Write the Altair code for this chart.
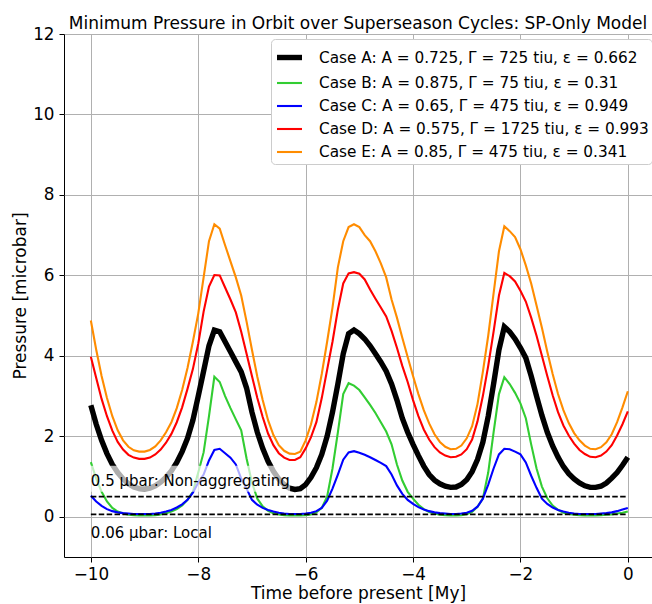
import altair as alt
import pandas as pd

# Time axis (My before present), sampled every 0.1 My
time_my = [round(-10 + 0.1 * i, 1) for i in range(101)]

case_labels = [
    "Case A: A = 0.725, Γ = 725 tiu, ε = 0.662",
    "Case B: A = 0.875, Γ = 75 tiu, ε = 0.31",
    "Case C: A = 0.65, Γ = 475 tiu, ε = 0.949",
    "Case D: A = 0.575, Γ = 1725 tiu, ε = 0.993",
    "Case E: A = 0.85, Γ = 475 tiu, ε = 0.341",
]
case_colors = ["#000000", "#32cd32", "#0000ff", "#ff0000", "#ff8c00"]
case_widths = [5.4, 2.1, 2.1, 2.1, 2.1]

case_a = [2.77, 2.30, 1.90, 1.57, 1.30, 1.10, 0.94, 0.82, 0.74, 0.70,
          0.69, 0.71, 0.77, 0.86, 0.98, 1.14, 1.35, 1.62, 1.95, 2.40,
          3.00, 3.62, 4.25, 4.64, 4.60, 4.35, 4.10, 3.85, 3.60, 3.20,
          2.60, 2.10, 1.70, 1.38, 1.13, 0.94, 0.80, 0.71, 0.68, 0.70,
          0.80, 0.98, 1.22, 1.55, 2.00, 2.60, 3.30, 4.05, 4.55, 4.64,
          4.55, 4.42, 4.25, 4.05, 3.85, 3.62, 3.30, 2.90, 2.45, 2.10,
          1.80, 1.52, 1.26, 1.05, 0.91, 0.82, 0.76, 0.73, 0.74, 0.80,
          0.92, 1.12, 1.42, 1.85, 2.50, 3.30, 4.15, 4.72, 4.60, 4.42,
          4.20, 3.95, 3.50, 3.00, 2.52, 2.10, 1.76, 1.48, 1.25, 1.07,
          0.94, 0.84, 0.77, 0.73, 0.73, 0.76, 0.84, 0.96, 1.10, 1.28,
          1.48]

case_b = [1.36, 0.95, 0.62, 0.38, 0.22, 0.13, 0.08, 0.05, 0.04, 0.03,
          0.03, 0.03, 0.04, 0.06, 0.09, 0.13, 0.19, 0.28, 0.42, 0.62,
          1.10, 1.60, 2.50, 3.48, 3.35, 3.00, 2.70, 2.42, 2.15, 1.45,
          0.85, 0.45, 0.26, 0.15, 0.09, 0.06, 0.04, 0.03, 0.03, 0.03,
          0.04, 0.06, 0.11, 0.22, 0.50, 1.20, 2.10, 3.05, 3.32, 3.26,
          3.15, 2.97, 2.78, 2.58, 2.35, 2.12, 1.80, 1.30, 0.90, 0.62,
          0.45, 0.30, 0.19, 0.12, 0.08, 0.05, 0.04, 0.03, 0.03, 0.04,
          0.06, 0.12, 0.25, 0.45, 1.10, 2.10, 3.05, 3.47, 3.30, 3.08,
          2.82, 2.45, 1.80, 1.20, 0.75, 0.46, 0.28, 0.17, 0.10, 0.07,
          0.05, 0.04, 0.03, 0.03, 0.03, 0.04, 0.05, 0.06, 0.08, 0.10,
          0.13]

case_c = [0.52, 0.38, 0.27, 0.19, 0.14, 0.11, 0.09, 0.08, 0.07, 0.07,
          0.07, 0.07, 0.08, 0.10, 0.13, 0.17, 0.23, 0.31, 0.42, 0.60,
          0.85, 1.05, 1.40, 1.66, 1.69, 1.58, 1.47, 1.30, 0.95, 0.70,
          0.42, 0.30, 0.22, 0.17, 0.13, 0.10, 0.08, 0.07, 0.07, 0.07,
          0.08, 0.10, 0.14, 0.22, 0.40, 0.70, 1.05, 1.42, 1.60, 1.63,
          1.59, 1.54, 1.48, 1.41, 1.34, 1.26, 1.05, 0.78, 0.57, 0.42,
          0.32, 0.24, 0.18, 0.14, 0.11, 0.09, 0.08, 0.07, 0.07, 0.08,
          0.10, 0.15, 0.25, 0.45, 0.80, 1.20, 1.55, 1.69, 1.68, 1.62,
          1.55, 1.35, 1.02, 0.72, 0.45, 0.32, 0.23, 0.17, 0.13, 0.10,
          0.08, 0.07, 0.07, 0.07, 0.07, 0.08, 0.09, 0.11, 0.14, 0.18,
          0.22]

case_d = [3.98, 3.45, 2.93, 2.50, 2.14, 1.86, 1.67, 1.54, 1.47, 1.44,
          1.44, 1.47, 1.55, 1.67, 1.84, 2.06, 2.35, 2.72, 3.18, 3.67,
          4.30, 5.10, 5.72, 6.01, 6.00, 5.70, 5.40, 5.08, 4.60, 4.05,
          3.50, 2.95, 2.48, 2.07, 1.78, 1.58, 1.47, 1.41, 1.41, 1.48,
          1.70, 1.98, 2.35, 2.95, 3.65, 4.35, 5.15, 5.80, 6.05, 6.08,
          6.04, 5.90, 5.65, 5.42, 5.20, 4.98, 4.62, 4.20, 3.75, 3.35,
          2.90, 2.50, 2.17, 1.92, 1.73, 1.60, 1.52, 1.48, 1.49, 1.55,
          1.68, 1.92, 2.37, 3.00, 3.75, 4.60, 5.50, 6.06, 5.98, 5.85,
          5.62, 5.35, 4.95, 4.50, 4.00, 3.50, 3.02, 2.60, 2.27, 2.02,
          1.82, 1.66, 1.56, 1.49, 1.48, 1.52, 1.62, 1.78, 2.02, 2.30,
          2.62]

case_e = [4.88, 4.15, 3.50, 2.95, 2.50, 2.15, 1.90, 1.74, 1.65, 1.62,
          1.62, 1.66, 1.75, 1.90, 2.10, 2.35, 2.70, 3.15, 3.70, 4.35,
          5.05, 5.95, 6.85, 7.27, 7.16, 6.75, 6.35, 5.95, 5.50, 4.85,
          4.15, 3.48, 2.90, 2.40, 2.03, 1.78, 1.64, 1.57, 1.56, 1.62,
          1.90, 2.30, 2.85, 3.55, 4.35, 5.20, 6.20, 6.85, 7.20, 7.27,
          7.20, 7.00, 6.85, 6.60, 6.30, 5.95, 5.40, 4.95, 4.45, 3.97,
          3.50, 3.05, 2.65, 2.32, 2.05, 1.86, 1.74, 1.68, 1.69, 1.77,
          1.95, 2.25, 2.80, 3.60, 4.50, 5.55, 6.60, 7.22, 7.10, 6.95,
          6.65, 6.25, 5.80, 5.25, 4.70, 4.10, 3.55, 3.05, 2.65, 2.33,
          2.08, 1.90, 1.77, 1.69, 1.68, 1.73, 1.85, 2.05, 2.35, 2.72,
          3.12]

thresholds = [0.5, 0.06]
threshold_notes = ["0.5 μbar: Non-aggregating", "0.06 μbar: Local"]
note_y = [0.77, -0.52]

rows = []
for lab, vals in zip(case_labels, [case_a, case_b, case_c, case_d, case_e]):
    for t, p in zip(time_my, vals):
        rows.append({"t": t, "p": p, "case": lab})
df = pd.DataFrame(rows)

rule_df = pd.DataFrame({"t": [-10.0] * 2, "t2": [0.0] * 2, "p": thresholds})
note_df = pd.DataFrame({"t": [-10.0] * 2, "p": note_y, "label": threshold_notes})
box_df = pd.DataFrame({"t": [-10.06], "t2": [-6.29], "p": [0.62], "p2": [1.27]})

x_scale = alt.Scale(domain=[-10.5, 0.45], nice=False, zero=False)
y_scale = alt.Scale(domain=[-1, 12], nice=False, zero=False)
x_axis = alt.Axis(values=[-10, -8, -6, -4, -2, 0], title="Time before present [My]",
                  labelPadding=4, titlePadding=3, grid=True)
y_axis = alt.Axis(values=[0, 2, 4, 6, 8, 10, 12], title="Pressure [microbar]",
                  labelPadding=5, titlePadding=3, grid=True)
x_enc = alt.X("t:Q", scale=x_scale, axis=x_axis)
y_enc = alt.Y("p:Q", scale=y_scale, axis=y_axis)

legend = alt.Legend(
    title=None, orient="none", legendX=207, legendY=5,
    symbolType="stroke", symbolSize=625, labelFontSize=15.3, labelFont="DejaVu Sans",
    labelColor="black", labelLimit=500, labelOffset=14,
    fillColor="white", strokeColor="#cccccc", cornerRadius=4, padding=3,
    rowPadding=-2,
)

lines = alt.Chart(df).mark_line(clip=True).encode(
    x=x_enc,
    y=y_enc,
    color=alt.Color("case:N", scale=alt.Scale(domain=case_labels, range=case_colors), legend=legend),
    strokeWidth=alt.StrokeWidth(
        "case:N",
        scale=alt.Scale(type="ordinal", domain=case_labels, range=case_widths),
        legend=legend,
    ),
)

rules = alt.Chart(rule_df).mark_rule(color="black", strokeDash=[5.5, 2.4], strokeWidth=1.6).encode(
    x=x_enc, x2=alt.X2("t2:Q"), y=y_enc
)

box = alt.Chart(box_df).mark_rect(color="white", opacity=0.68).encode(
    x=x_enc, x2=alt.X2("t2:Q"), y=y_enc, y2=alt.Y2("p2:Q")
)

notes = alt.Chart(note_df).mark_text(
    align="left", baseline="alphabetic", fontSize=15, font="DejaVu Sans", color="black"
).encode(x=x_enc, y=y_enc, text="label:N")

chart = alt.layer(lines, rules, box, notes).properties(
    width=588,
    height=523,
    padding={"left": 64, "top": 34, "right": 0, "bottom": 47},
    autosize="none",
    title=alt.TitleParams(
        "Minimum Pressure in Orbit over Superseason Cycles: SP-Only Model",
        font="DejaVu Sans", fontSize=17, fontWeight="normal", color="black",
        anchor="middle", offset=-7,
    ),
).configure_axis(
    labelFont="DejaVu Sans", titleFont="DejaVu Sans",
    labelFontSize=16.8, titleFontSize=17, titleFontWeight="normal",
    labelColor="black", titleColor="black",
    tickColor="black", tickSize=5, tickWidth=1,
    gridColor="#b0b0b0", gridWidth=1, domain=False,
).configure_legend(
    labelFont="DejaVu Sans", labelFontSize=15.3, labelColor="black", labelLimit=500,
).configure_view(stroke="black", strokeWidth=1)

chart.save("out.html", embed_options={"renderer": "svg", "actions": False})
